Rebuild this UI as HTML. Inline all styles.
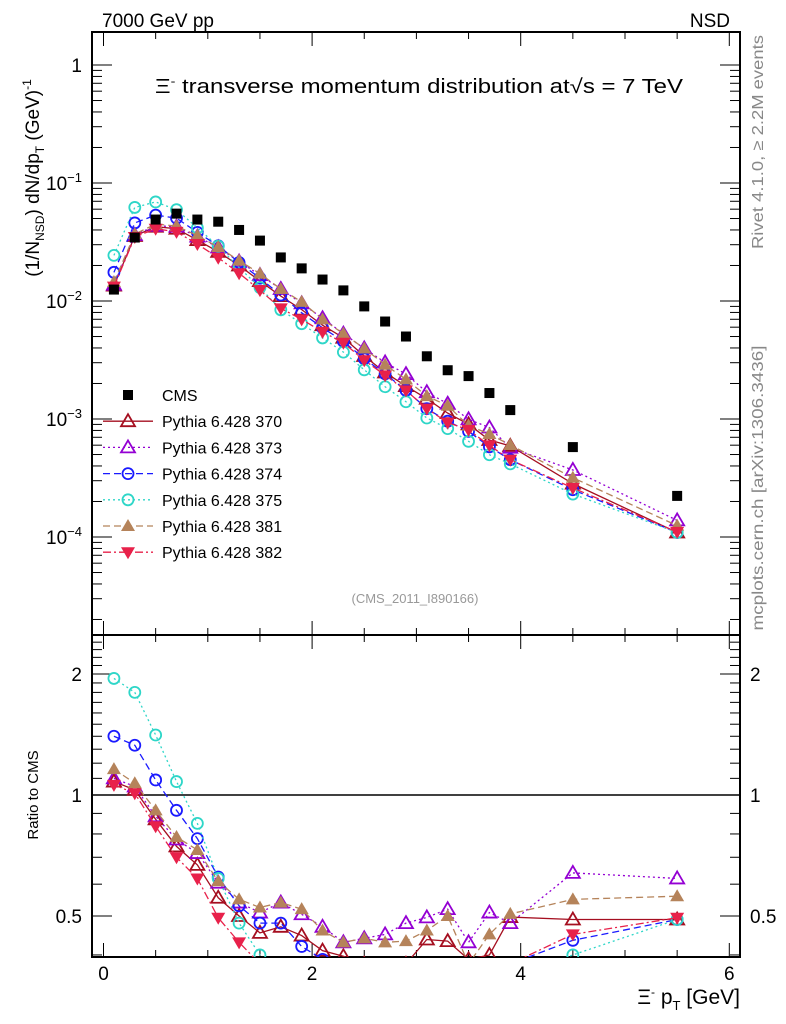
<!DOCTYPE html>
<html><head><meta charset="utf-8">
<style>
html,body{margin:0;padding:0;background:#fff;}
svg{display:block;font-family:"Liberation Sans",sans-serif;}
</style></head>
<body>
<svg id="c" width="786" height="1024" viewBox="0 0 786 1024" xmlns="http://www.w3.org/2000/svg">
<text x="102" y="27" font-size="19">7000 GeV pp</text>
<text x="730" y="27" font-size="19" text-anchor="end">NSD</text>
<text x="155" y="93" font-size="20" textLength="528" lengthAdjust="spacingAndGlyphs">Ξ<tspan dy="-8" font-size="12">-</tspan><tspan dy="8"> transverse momentum distribution at</tspan><tspan>√s = 7 TeV</tspan></text>
<text transform="translate(763,142) rotate(-90)" font-size="16" fill="#888" text-anchor="middle" textLength="214" lengthAdjust="spacingAndGlyphs">Rivet 4.1.0, ≥ 2.2M events</text>
<text transform="translate(763,488) rotate(-90)" font-size="16" fill="#888" text-anchor="middle" textLength="285" lengthAdjust="spacingAndGlyphs">mcplots.cern.ch [arXiv:1306.3436]</text>
<text x="415" y="603" font-size="13" fill="#999" text-anchor="middle">(CMS_2011_I890166)</text>
<text transform="translate(39,178) rotate(-90)" font-size="19" text-anchor="middle">(1/N<tspan dy="5" font-size="12">NSD</tspan><tspan dy="-5">) dN/dp</tspan><tspan dy="5" font-size="12">T</tspan><tspan dy="-5"> (GeV)</tspan><tspan dy="-8" font-size="12">-1</tspan></text>
<text transform="translate(38,795) rotate(-90)" font-size="15" text-anchor="middle">Ratio to CMS</text>
<text x="740" y="1004" font-size="21" text-anchor="end">Ξ<tspan dy="-8" font-size="12">-</tspan><tspan dy="8"> p</tspan><tspan dy="6" font-size="13">T</tspan><tspan dy="-6"> [GeV]</tspan></text>
<g id="g"></g>
</svg>
<script>
const xs=[0.1,0.3,0.5,0.7,0.9,1.1,1.3,1.5,1.7,1.9,2.1,2.3,2.5,2.7,2.9,3.1,3.3,3.5,3.7,3.9,4.5,5.5];
const cms=[0.0125,0.0345,0.049,0.055,0.049,0.047,0.040,0.0325,0.0234,0.0189,0.0152,0.0123,0.0090,0.0067,0.0050,0.0034,0.00259,0.00231,0.00166,0.00119,0.000578,0.000223];
const r370=[1.08,1.03,0.87,0.745,0.67,0.555,0.50,0.454,0.47,0.447,0.41,0.397,0.38,0.37,0.38,0.437,0.433,0.39,0.40,0.497,0.49,0.49];
const r373=[1.10,1.05,0.885,0.775,0.717,0.605,0.54,0.51,0.54,0.505,0.47,0.43,0.44,0.45,0.48,0.496,0.52,0.43,0.51,0.48,0.64,0.62];
const r374=[1.40,1.33,1.09,0.916,0.779,0.625,0.53,0.48,0.48,0.42,0.39,0.37,0.36,0.36,0.35,0.36,0.37,0.34,0.35,0.38,0.435,0.49];
const r375=[1.95,1.80,1.41,1.08,0.85,0.62,0.48,0.40,0.36,0.34,0.32,0.30,0.29,0.28,0.28,0.30,0.32,0.28,0.30,0.35,0.40,0.49];
const r381=[1.16,1.07,0.916,0.786,0.73,0.61,0.55,0.525,0.54,0.52,0.46,0.43,0.44,0.43,0.433,0.46,0.50,0.38,0.45,0.506,0.55,0.56];
const r382=[1.06,1.01,0.836,0.70,0.62,0.495,0.43,0.38,0.37,0.37,0.36,0.36,0.35,0.35,0.35,0.36,0.36,0.35,0.36,0.38,0.45,0.495];
const xTicks=[0,2,4,6];
const NS='http://www.w3.org/2000/svg';
const g=document.getElementById('g');
const L=92,R=740,T=32,M=635,B=957;
const X=v=>103.5+v*104.3;
const Y=v=>65-118*Math.log10(v);
const YR=v=>795-121*Math.log2(v);
function el(t,a,p){const e=document.createElementNS(NS,t);for(const k in a)e.setAttribute(k,a[k]);(p||g).appendChild(e);return e;}
const defs=el('defs',{});
const c1=el('clipPath',{id:'cm'},defs);el('rect',{x:L,y:T,width:R-L,height:M-T},c1);
const c2=el('clipPath',{id:'cr'},defs);el('rect',{x:L,y:M,width:R-L,height:B-M},c2);
const f1=el('rect',{x:L,y:T,width:R-L,height:M-T,fill:'none',stroke:'#000','stroke-width':2});


const f2=el('rect',{x:L,y:M,width:R-L,height:B-M,fill:'none',stroke:'#000','stroke-width':2});


for(let v=0;v<=6.01;v+=0.5){const maj=Math.abs(v-Math.round(v/2)*2)<1e-6;const len=maj?14:7;
 for(const [t,b] of [[T,M],[M,B]]){el('line',{x1:X(v),x2:X(v),y1:t,y2:t+len,stroke:'#000'});el('line',{x1:X(v),x2:X(v),y1:b,y2:b-len,stroke:'#000'});}}
xTicks.forEach(v=>{const t=el('text',{x:X(v),y:980,'font-size':19,'text-anchor':'middle'});t.textContent=v;
 
 });
for(let e=-5;e<=0;e++){for(let m=1;m<10;m++){const v=m*Math.pow(10,e);const y=Y(v);if(y<T||y>M)continue;const len=m==1?20:10;
 el('line',{x1:L,x2:L+len,y1:y,y2:y,stroke:'#000'});el('line',{x1:R,x2:R-len,y1:y,y2:y,stroke:'#000'});}}
const yl=[['1',0],['10',-1],['10',-2],['10',-3],['10',-4]];
yl.forEach(([s,e])=>{const t=el('text',{x:82,y:Y(Math.pow(10,e))+7,'font-size':19,'text-anchor':'end'});
 
 
 if(e==0)t.textContent='1';else{t.textContent='10';const s2=el('tspan',{dy:-8,'font-size':13},t);s2.textContent='−'+(-e);}});
[0.4,0.5,0.6,0.7,0.8,0.9,1,1.1,1.2,1.3,1.4,1.5,1.6,1.7,1.8,1.9,2,2.1,2.2,2.3,2.4].forEach(v=>{const y=YR(v);if(y<M||y>B)return;const maj=[0.5,1,2].includes(v);const len=maj?20:10;
 el('line',{x1:L,x2:L+len,y1:y,y2:y,stroke:'#000'});el('line',{x1:R,x2:R-len,y1:y,y2:y,stroke:'#000'});});
[[2,'2'],[1,'1'],[0.5,'0.5']].forEach(([v,s])=>{const t=el('text',{x:82,y:YR(v)+7,'font-size':19,'text-anchor':'end'});t.textContent=s;
 
 
 const t2=el('text',{x:750,y:YR(v)+7,'font-size':19});t2.textContent=s;
 
 });
el('line',{x1:L,x2:R,y1:YR(1),y2:YR(1),stroke:'#000','stroke-width':1.5});
function marker(p,type,col,x,y){
 if(type=='sq')return el('rect',{x:x-5,y:y-5,width:10,height:10,fill:'#000'},p);
 if(type=='ot')return el('path',{d:`M${x} ${y-7}L${x+7} ${y+5}L${x-7} ${y+5}Z`,fill:'none',stroke:col,'stroke-width':1.8},p);
 if(type=='ft')return el('path',{d:`M${x} ${y-7}L${x+7} ${y+5}L${x-7} ${y+5}Z`,fill:col},p);
 if(type=='fd')return el('path',{d:`M${x} ${y+7}L${x+7} ${y-5}L${x-7} ${y-5}Z`,fill:col},p);
 if(type=='oc')return el('circle',{cx:x,cy:y,r:5.5,fill:'none',stroke:col,'stroke-width':1.8},p);
}
const series=[
 {n:'370',r:r370,col:'#a50f20',m:'ot',d:''},
 {n:'373',r:r373,col:'#9400d3',m:'ot',d:'2 3'},
 {n:'374',r:r374,col:'#1a1aff',m:'oc',d:'7 4'},
 {n:'375',r:r375,col:'#2ed6c8',m:'oc',d:'2 3'},
 {n:'381',r:r381,col:'#b5835a',m:'ft',d:'7 4'},
 {n:'382',r:r382,col:'#e8214a',m:'fd',d:'8 3 2 3'}];
const gm=el('g',{'clip-path':'url(#cm)'});


const gr=el('g',{'clip-path':'url(#cr)'});


series.forEach(s=>{
 const mc=xs.map((x,i)=>cms[i]*s.r[i]);
 const sg=el('g',{},gm);
 
 
 el('polyline',{points:xs.map((x,i)=>X(x)+','+Y(mc[i])).join(' '),fill:'none',stroke:s.col,'stroke-width':1.3,'stroke-dasharray':s.d},sg);
 xs.forEach((x,i)=>{const mk=marker(sg,s.m,s.col,X(x),Y(mc[i]));
  
  });
 const rg=el('g',{},gr);
 
 
 el('polyline',{points:xs.map((x,i)=>X(x)+','+YR(s.r[i])).join(' '),fill:'none',stroke:s.col,'stroke-width':1.3,'stroke-dasharray':s.d},rg);
 xs.forEach((x,i)=>{const mk=marker(rg,s.m,s.col,X(x),YR(s.r[i]));
  
  });
});
const cg=el('g',{},gm);


xs.forEach((x,i)=>{const mk=marker(cg,'sq','#000',X(x),Y(cms[i]));
 
 });
const lg=el('g',{});


const items=[{n:'CMS',m:'sq',col:'#000',d:null}].concat(series.map(s=>({n:'Pythia 6.428 '+s.n,m:s.m,col:s.col,d:s.d})));
items.forEach((it,i)=>{const y=395+i*26.2;const e=el('g',{},lg);
 
 
 if(it.d!==null)el('line',{x1:103,x2:153,y1:y,y2:y,stroke:it.col,'stroke-width':1.3,'stroke-dasharray':it.d},e);
 marker(e,it.m,it.col,128,y);
 const t=el('text',{x:162,y:y+6,'font-size':16},e);t.textContent=it.n;});
</script>
</body></html>
